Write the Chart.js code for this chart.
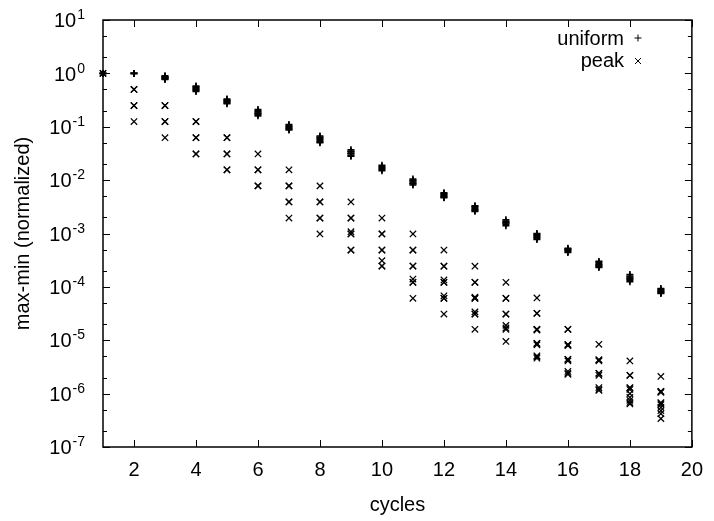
<!DOCTYPE html>
<html>
<head>
<meta charset="utf-8">
<script src="https://cdn.jsdelivr.net/npm/chart.js@4.4.1/dist/chart.umd.min.js"></script>
<style>
  html, body { margin: 0; padding: 0; background: #fff; }
</style>
</head>
<body>
<canvas id="chartCycles" width="714" height="521"></canvas>
<script>
const cycles = [1, 2, 3, 4, 5, 6, 7, 8, 9, 10, 11, 12, 13, 14, 15, 16, 17, 18, 19]

// one list of runs per cycle
const uniform = [
    [1, 1, 1],
    [1, 1, 1],
    [0.9, 0.87, 0.85, 0.83, 0.81, 0.79, 0.77],
    [0.58, 0.56, 0.54, 0.52, 0.5, 0.48, 0.46],
    [0.33, 0.32, 0.31, 0.3, 0.29, 0.28, 0.27],
    [0.21, 0.2, 0.19, 0.18, 0.175, 0.17, 0.16],
    [0.11, 0.105, 0.1, 0.097, 0.093, 0.09, 0.087],
    [0.067, 0.064, 0.061, 0.058, 0.055, 0.052, 0.05],
    [0.037, 0.035, 0.034, 0.032, 0.031, 0.029, 0.028],
    [0.019, 0.018, 0.0172, 0.0165, 0.0158, 0.015],
    [0.0105, 0.01, 0.0096, 0.0092, 0.0088, 0.0085, 0.0081],
    [0.0058, 0.0056, 0.0054, 0.0052, 0.005, 0.0048, 0.0047],
    [0.0033, 0.0032, 0.0031, 0.0029, 0.0028, 0.0027, 0.0026],
    [0.0018, 0.0017, 0.0016, 0.0016, 0.0015, 0.0014],
    [0.001, 0.00097, 0.00093, 0.00089, 0.00085, 0.00081, 0.00077],
    [0.00053, 0.00051, 0.0005, 0.00048, 0.00046, 0.00044],
    [0.0003, 0.00029, 0.00027, 0.00026, 0.00025, 0.00024, 0.00023],
    [0.00017, 0.00016, 0.000153, 0.000146, 0.00014, 0.000132, 0.000125],
    [0.000093, 0.00009, 0.000086, 0.000083, 0.00008, 0.000078, 0.000075]
]

const peak = [
    [1, 1],
    [0.5, 0.5, 0.25, 0.25, 0.125],
    [0.25, 0.25, 0.125, 0.125, 0.0625],
    [0.125, 0.125, 0.0625, 0.0625, 0.031, 0.031],
    [0.0625, 0.0625, 0.031, 0.031, 0.0156, 0.0156],
    [0.031, 0.0156, 0.0156, 0.0078, 0.0078],
    [0.0156, 0.0078, 0.0078, 0.0039, 0.0039, 0.00195],
    [0.0078, 0.0039, 0.0039, 0.00195, 0.00195, 0.00098],
    [0.0039, 0.00195, 0.00195, 0.00108, 0.00098, 0.00098, 0.00049, 0.00049],
    [0.00195, 0.00098, 0.00098, 0.00049, 0.00049, 0.00031, 0.000245, 0.000245],
    [0.00098, 0.00049, 0.00049, 0.000245, 0.000245, 0.00014, 0.000122, 0.000122, 0.000061],
    [0.00049, 0.000244, 0.000244, 0.000135, 0.000122, 0.000122, 0.000068, 0.000061, 0.000061, 0.000031],
    [0.000244, 0.000122, 0.000122, 0.000064, 0.000061, 0.000061, 0.000034, 0.000031, 0.000031, 0.000016],
    [0.000122, 0.000061, 0.000061, 0.000031, 0.000031, 0.000019, 0.000017, 0.000016, 0.0000095],
    [0.000062, 0.000032, 0.000032, 0.000016, 0.000016, 0.0000155, 0.0000087, 0.0000087, 0.0000082, 0.0000051, 0.0000049, 0.0000046],
    [0.000016, 0.000016, 0.0000083, 0.0000083, 0.0000079, 0.0000044, 0.0000044, 0.0000041, 0.0000026, 0.0000024, 0.0000023],
    [0.0000084, 0.0000043, 0.0000043, 0.0000041, 0.0000024, 0.0000024, 0.0000022, 0.0000013, 0.0000012, 0.00000115],
    [0.0000041, 0.0000022, 0.0000022, 0.0000013, 0.00000127, 0.0000012, 0.000001, 0.00000085, 0.00000075, 0.00000068, 0.00000064],
    [0.0000021, 0.0000011, 0.0000011, 0.00000105, 0.00000068, 0.00000065, 0.00000062, 0.00000055, 0.00000048, 0.00000042, 0.00000034]
]

const xTicks = [2, 4, 6, 8, 10, 12, 14, 16, 18, 20]
const yExponents = [-7, -6, -5, -4, -3, -2, -1, 0, 1]
const seriesNames = ['uniform', 'peak']

const FONT = "'Liberation Sans', Arial, Helvetica, sans-serif"

const toPoints = (runs) => {
    const puntos = []
    runs.forEach((valores, i) => {
        valores.forEach(v => puntos.push({ x: cycles[i], y: v }))
    })
    return puntos
}

// gnuplot style frame: inward ticks on all sides, log minor ticks at 2 and 5
const gnuplotFrame = {
    id: 'gnuplotFrame',
    afterDraw(chart) {
        const { ctx, chartArea: a, scales: { x, y } } = chart
        ctx.save()
        ctx.strokeStyle = '#000'
        ctx.fillStyle = '#000'
        ctx.lineWidth = 1

        const linea = (x1, y1, x2, y2) => {
            ctx.beginPath()
            ctx.moveTo(x1, y1)
            ctx.lineTo(x2, y2)
            ctx.stroke()
        }

        xTicks.forEach(v => {
            const px = Math.round(x.getPixelForValue(v)) + 0.5
            linea(px, a.bottom, px, a.bottom - 7)
            linea(px, a.top, px, a.top + 7)
        })

        yExponents.forEach(e => {
            const dec = Math.pow(10, e)
            const py = Math.round(y.getPixelForValue(dec)) + 0.5
            linea(a.left, py, a.left + 7, py)
            linea(a.right, py, a.right - 7, py)
            ;[2, 5].forEach(m => {
                const v = m * dec
                if (v > y.max) return
                const pm = Math.round(y.getPixelForValue(v)) + 0.5
                linea(a.left, pm, a.left + 4, pm)
                linea(a.right, pm, a.right - 4, pm)
            })

            // tick label 10^e
            const exp = String(e)
            ctx.font = `20px ${FONT}`
            const wBase = ctx.measureText('10').width
            ctx.font = `14px ${FONT}`
            const wExp = ctx.measureText(exp).width
            const right = a.left - 18
            const base = y.getPixelForValue(dec) + 7.2
            ctx.textBaseline = 'alphabetic'
            ctx.textAlign = 'left'
            ctx.font = `20px ${FONT}`
            ctx.fillText('10', right - wExp - 1 - wBase, base)
            ctx.font = `14px ${FONT}`
            ctx.fillText(exp, right - wExp, base - 8)
        })

        // frame
        ctx.lineWidth = 1.5
        ctx.strokeRect(a.left, a.top, a.right - a.left, a.bottom - a.top)

        // key, top right
        ctx.lineWidth = 1
        ctx.font = `20px ${FONT}`
        ctx.textAlign = 'right'
        ctx.textBaseline = 'middle'
        const keyX = 638
        const keyY = [39, 61]
        ctx.fillText(seriesNames[0], 624, keyY[0])
        ctx.fillText(seriesNames[1], 624, keyY[1])
        linea(keyX - 3.5, keyY[0] - 1, keyX + 3.5, keyY[0] - 1)
        linea(keyX, keyY[0] - 4.5, keyX, keyY[0] + 2.5)
        linea(keyX - 3, keyY[1] - 3, keyX + 3, keyY[1] + 3)
        linea(keyX - 3, keyY[1] + 3, keyX + 3, keyY[1] - 3)

        ctx.restore()
    }
}

const canvas = document.getElementById('chartCycles')
const context = canvas.getContext('2d')

const chartCycles = new Chart(context, {
    type: 'scatter',
    data: {
        datasets: [
            {
                label: seriesNames[0],
                data: toPoints(uniform),
                pointStyle: 'cross',
                pointRadius: 3.5,
                borderColor: '#000',
                backgroundColor: '#000',
                borderWidth: 1.6,
                clip: false
            },
            {
                label: seriesNames[1],
                data: toPoints(peak),
                pointStyle: 'crossRot',
                pointRadius: 4.5,
                borderColor: '#000',
                backgroundColor: '#000',
                borderWidth: 1.25,
                clip: false
            }
        ]
    },
    options: {
        responsive: false,
        animation: false,
        events: [],
        layout: { padding: { left: 11, right: 17, top: 20, bottom: 4 } },
        plugins: {
            legend: { display: false },
            tooltip: { enabled: false }
        },
        scales: {
            x: {
                type: 'linear',
                min: 1,
                max: 20,
                grid: { display: false, drawTicks: false },
                border: { display: false },
                afterBuildTicks: (scale) => { scale.ticks = xTicks.map(v => ({ value: v })) },
                afterFit: (scale) => { scale.height = 70 },
                ticks: {
                    color: '#000',
                    padding: 11,
                    maxRotation: 0,
                    autoSkip: false,
                    font: { size: 20, family: FONT }
                },
                title: {
                    display: true,
                    text: 'cycles',
                    color: '#000',
                    padding: 0,
                    font: { size: 20, family: FONT }
                }
            },
            y: {
                type: 'logarithmic',
                min: 1e-7,
                max: 10,
                grid: { display: false, drawTicks: false },
                border: { display: false },
                ticks: { display: false },
                afterFit: (scale) => { scale.width = 92 },
                title: {
                    display: true,
                    text: 'max-min (normalized)',
                    color: '#000',
                    padding: 0,
                    font: { size: 20, family: FONT }
                }
            }
        }
    },
    plugins: [gnuplotFrame]
})
</script>
</body>
</html>
